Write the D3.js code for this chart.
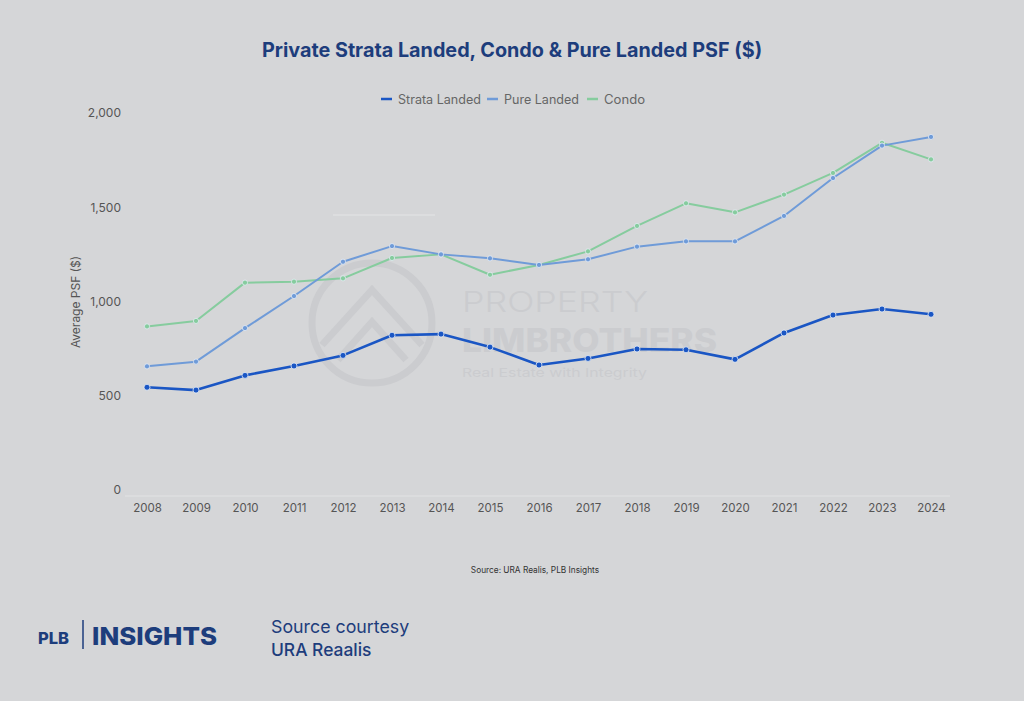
<!DOCTYPE html>
<html><head><meta charset="utf-8">
<script src="https://cdn.jsdelivr.net/npm/d3@7"></script>
<style>
html,body{margin:0;padding:0;background:#d5d6d8;}
svg{display:block;}
</style></head>
<body>
<script>
const years = ["2008","2009","2010","2011","2012","2013","2014","2015","2016","2017","2018","2019","2020","2021","2022","2023","2024"];
const strataLanded = [545,530,608,658,714,821,827,758,663,698,748,744,693,833,928,960,932];
const pureLanded = [656,681,859,1029,1211,1294,1250,1229,1194,1224,1291,1319,1319,1454,1655,1827,1873];
const condo = [868,897,1100,1105,1123,1231,1250,1142,1194,1266,1401,1521,1473,1567,1682,1842,1754];
const yTicks = [0,500,1000,1500,2000];
const seriesNames = ["Strata Landed","Pure Landed","Condo"];
const seriesColors = ["#1a56c4","#6f9bd8","#86cc9e"];
const seriesWidths = [2.6,2.0,2.0];

const W = 1024, H = 701;
const svg = d3.select("body").append("svg").attr("width", W).attr("height", H);
svg.append("rect").attr("width", W).attr("height", H).attr("fill", "#d5d6d8");

const font = "Inter, 'Open Sans', sans-serif";

// watermark
const wmc = "#cbcccf";
const wm = svg.append("g");
wm.append("circle").attr("cx", 372).attr("cy", 323).attr("r", 60).attr("fill", "none").attr("stroke", wmc).attr("stroke-width", 7);
wm.append("path").attr("d", "M322,345 L372,290 L422,345 M338,360 L372,322 L406,360").attr("fill", "none").attr("stroke", wmc).attr("stroke-width", 7);
wm.append("text").attr("x", 462).attr("y", 312).attr("font-family", font).attr("font-size", 28).attr("font-weight", 300)
  .attr("fill", wmc).attr("textLength", 186).attr("lengthAdjust", "spacingAndGlyphs").text("PROPERTY");
wm.append("text").attr("x", 462).attr("y", 352).attr("font-family", font).attr("font-size", 32).attr("font-weight", 800)
  .attr("fill", wmc).attr("textLength", 255).attr("lengthAdjust", "spacingAndGlyphs").text("LIMBROTHERS");
wm.append("text").attr("x", 462).attr("y", 377).attr("font-family", font).attr("font-size", 12).attr("font-weight", 400)
  .attr("fill", wmc).attr("textLength", 185).attr("lengthAdjust", "spacingAndGlyphs").text("Real Estate with Integrity");

// faint artifact line
svg.append("line").attr("x1", 333).attr("x2", 435).attr("y1", 215).attr("y2", 215).attr("stroke", "#e4e5e6").attr("stroke-width", 1);

// title
svg.append("text").attr("x", 512).attr("y", 57).attr("text-anchor", "middle")
  .attr("font-family", font).attr("font-size", 19.8).attr("font-weight", 700).attr("fill", "#1d3d7c")
  .text("Private Strata Landed, Condo & Pure Landed PSF ($)");

// scales
const x = d3.scalePoint().domain(years).range([147, 931]);
const y = d3.scaleLinear().domain([0, 2000]).range([490, 113]);

// y axis
const yAxis = svg.append("g").attr("transform", "translate(121,0)")
  .call(d3.axisLeft(y).tickValues(yTicks).tickSize(0).tickFormat(d3.format(",")));
yAxis.select(".domain").remove();
yAxis.selectAll("text").attr("text-anchor", "end").attr("x", 0).attr("dy", "0.32em")
  .attr("font-family", font).attr("font-size", 12).attr("fill", "#555");

svg.append("text").attr("transform", "translate(80,302) rotate(-90)").attr("text-anchor", "middle")
  .attr("font-family", font).attr("font-size", 12).attr("fill", "#555").text("Average PSF ($)");

// baseline
svg.append("line").attr("x1", 125).attr("x2", 950).attr("y1", y(0) + 6).attr("y2", y(0) + 6)
  .attr("stroke", "#e2e3e4").attr("stroke-width", 1);

// x axis
const xAxis = svg.append("g").attr("transform", "translate(0,498)")
  .call(d3.axisBottom(x).tickSize(0).tickPadding(6));
xAxis.select(".domain").remove();
xAxis.selectAll("text").attr("font-family", font).attr("font-size", 11.5).attr("fill", "#555");

// lines
const data = [strataLanded, pureLanded, condo];
const line = d3.line().x((d, i) => x(years[i])).y(d => y(d));
[2,1,0].forEach(k => {
  const g = svg.append("g");
  g.append("path").datum(data[k]).attr("d", line).attr("fill", "none")
    .attr("stroke", seriesColors[k]).attr("stroke-width", seriesWidths[k]).attr("stroke-linejoin", "round");
  g.selectAll("circle").data(data[k]).join("circle")
    .attr("cx", (d, i) => x(years[i])).attr("cy", d => y(d)).attr("r", k === 0 ? 3 : 2.6)
    .attr("fill", seriesColors[k]).attr("stroke", "#e6ecf5").attr("stroke-width", 0.8);
});

// legend
const legendX = [381, 487, 587];
const legendW = [83, 75, 41];
const lg = svg.append("g");
seriesNames.forEach((n, i) => {
  lg.append("line").attr("x1", legendX[i]).attr("x2", legendX[i] + 11).attr("y1", 99).attr("y2", 99)
    .attr("stroke", seriesColors[i]).attr("stroke-width", 2.5);
  lg.append("text").attr("x", legendX[i] + 17).attr("y", 103.5).attr("font-family", font)
    .attr("font-size", 12.5).attr("fill", "#666")
    .attr("textLength", legendW[i]).attr("lengthAdjust", "spacingAndGlyphs").text(n);
});

// source
svg.append("text").attr("x", 535).attr("y", 573).attr("text-anchor", "middle")
  .attr("font-family", font).attr("font-size", 8.3).attr("fill", "#333").text("Source: URA Realis, PLB Insights");

// footer
svg.append("text").attr("x", 38).attr("y", 644).attr("font-family", font).attr("font-size", 16.5).attr("font-weight", 800)
  .attr("fill", "#1d3d7c").text("PLB");
svg.append("line").attr("x1", 83).attr("x2", 83).attr("y1", 620).attr("y2", 649).attr("stroke", "#1d3d7c").attr("stroke-width", 1.5);
svg.append("text").attr("x", 92).attr("y", 645).attr("font-family", font).attr("font-size", 24).attr("font-weight", 800)
  .attr("fill", "#1d3d7c").attr("textLength", 125).attr("lengthAdjust", "spacingAndGlyphs").text("INSIGHTS");
svg.append("text").attr("x", 271).attr("y", 633).attr("font-family", font).attr("font-size", 17.8).attr("font-weight", 400)
  .attr("fill", "#1d3d7c").text("Source courtesy");
svg.append("text").attr("x", 271).attr("y", 656).attr("font-family", font).attr("font-size", 17.4).attr("font-weight", 500)
  .attr("fill", "#1d3d7c").text("URA Reaalis");
</script>
</body></html>
